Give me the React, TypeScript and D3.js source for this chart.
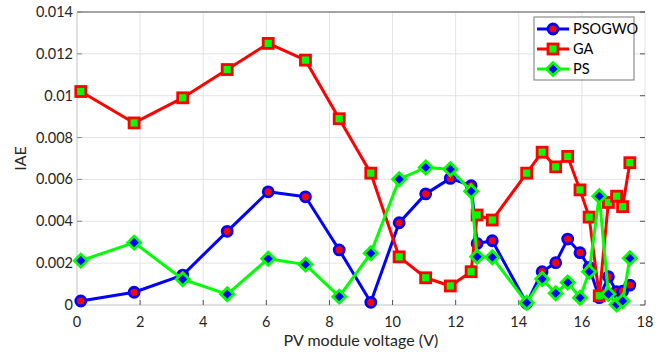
import React from "react";
import * as d3 from "d3";

const voltage = [0.12, 1.81, 3.35, 4.76, 6.06, 7.24, 8.31, 9.31, 10.21, 11.05, 11.83, 12.49, 12.68, 13.16, 14.25, 14.74, 15.17, 15.55, 15.94, 16.23, 16.55, 16.84, 17.1, 17.29, 17.52];
const psogwo = [0.00019, 0.00061, 0.00143, 0.00352, 0.00541, 0.00517, 0.00263, 0.00013, 0.00393, 0.00531, 0.00605, 0.0057, 0.00294, 0.00307, 0.00008, 0.00159, 0.00202, 0.00315, 0.0025, 0.0018, 0.00035, 0.00135, 0.00064, 0.00066, 0.00095];
const ga = [0.0102, 0.0087, 0.0099, 0.01125, 0.0125, 0.0117, 0.0089, 0.0063, 0.0023, 0.0013, 0.00091, 0.00159, 0.0043, 0.00406, 0.0063, 0.0073, 0.0066, 0.0071, 0.0055, 0.0042, 0.00044, 0.0049, 0.0052, 0.0047, 0.0068];
const ps = [0.00212, 0.00298, 0.00123, 0.00051, 0.00221, 0.00193, 0.0004, 0.00247, 0.00601, 0.00657, 0.00649, 0.00544, 0.00231, 0.00228, 0.00011, 0.00124, 0.00056, 0.00108, 0.00035, 0.00159, 0.0052, 0.00052, 0.00002, 0.00019, 0.00223];
const xTicks = [0, 2, 4, 6, 8, 10, 12, 14, 16, 18];
const yTicks = [0, 0.002, 0.004, 0.006, 0.008, 0.01, 0.012, 0.014];
const yTickLabels = ["0", "0.002", "0.004", "0.006", "0.008", "0.01", "0.012", "0.014"];
const seriesNames = ["PSOGWO", "GA", "PS"];

const W = 669, H = 358;
const L = 77, R = 645, T = 12, B = 305;
const FONT = "Lato, 'Open Sans', sans-serif";
const LW = 3;

type Kind = "circle" | "square" | "diamond";

function Marker({ kind, x, y, stroke, fill }: { kind: Kind; x: number; y: number; stroke: string; fill: string }) {
  if (kind === "circle") return <circle cx={x} cy={y} r={5} fill={fill} stroke={stroke} strokeWidth={2.8} />;
  if (kind === "square") return <rect x={x - 5} y={y - 5} width={10} height={10} fill={fill} stroke={stroke} strokeWidth={2.8} />;
  const s = 6.5;
  return <path d={`M${x},${y - s}L${x + s},${y}L${x},${y + s}L${x - s},${y}Z`} fill={fill} stroke={stroke} strokeWidth={2.8} />;
}

export default function App() {
  const x = d3.scaleLinear().domain([0, 18]).range([L, R]);
  const y = d3.scaleLinear().domain([0, 0.014]).range([B, T]);
  const series = [
    { name: seriesNames[0], data: psogwo, color: "#0000ff", fill: "#ff0000", kind: "circle" as Kind },
    { name: seriesNames[1], data: ga, color: "#ff0000", fill: "#00ff00", kind: "square" as Kind },
    { name: seriesNames[2], data: ps, color: "#00ff00", fill: "#0000ff", kind: "diamond" as Kind },
  ];
  const line = d3.line<number>().x((_, i) => x(voltage[i])).y((d) => y(d));
  return (
    <svg width={W} height={H} style={{ position: "absolute", left: 0, top: 0, background: "#fff" }} fontFamily={FONT}>
      <rect width={W} height={H} fill="#fff" />
      {xTicks.map((t) => (
        <line key={"gx" + t} x1={x(t)} x2={x(t)} y1={T} y2={B} stroke="#e3e3e3" strokeWidth={1} />
      ))}
      {yTicks.map((t) => (
        <line key={"gy" + t} x1={L} x2={R} y1={y(t)} y2={y(t)} stroke="#e3e3e3" strokeWidth={1} />
      ))}
      <line x1={L} x2={R} y1={T} y2={T} stroke="#555" strokeWidth={1} />
      <line x1={L} x2={L} y1={T} y2={B} stroke="#d0d0d0" strokeWidth={1} />
      <line x1={L} x2={R} y1={B} y2={B} stroke="#d0d0d0" strokeWidth={1} />
      {xTicks.map((t) => (
        <line key={"tx" + t} x1={x(t)} x2={x(t)} y1={B} y2={B - 5} stroke="#555" strokeWidth={1} />
      ))}
      {yTicks.map((t) => (
        <g key={"ty" + t}>
          <line x1={L} x2={L + 5} y1={y(t)} y2={y(t)} stroke="#888" strokeWidth={1} />
          <line x1={R} x2={R - 5} y1={y(t)} y2={y(t)} stroke="#555" strokeWidth={1} />
        </g>
      ))}
      {xTicks.map((t) => (
        <text key={"lx" + t} x={x(t)} y={B + 22} textAnchor="middle" fontSize={14.5} fill="#262626">{t}</text>
      ))}
      {yTicks.map((t, i) => (
        <text key={"ly" + t} x={L - 4} y={y(t) + 5} textAnchor="end" fontSize={14.5} fill="#262626">{yTickLabels[i]}</text>
      ))}
      <text x={(L + R) / 2} y={346} textAnchor="middle" fontSize={16} fill="#262626">PV module voltage (V)</text>
      <text transform={`translate(26,${(T + B) / 2}) rotate(-90)`} textAnchor="middle" fontSize={16} fill="#262626">IAE</text>
      {series.map((s) => (
        <g key={s.name}>
          <path d={line(s.data) || ""} fill="none" stroke={s.color} strokeWidth={LW} strokeLinejoin="round" />
          {s.data.map((v, i) => (
            <Marker key={i} kind={s.kind} x={x(voltage[i])} y={y(v)} stroke={s.color} fill={s.fill} />
          ))}
        </g>
      ))}
      <g>
        <rect x={534} y={17} width={100} height={63} fill="#fff" stroke="#777" strokeWidth={1} />
        {series.map((s, i) => {
          const yy = 29 + i * 20;
          return (
            <g key={"lg" + s.name}>
              <line x1={537} x2={569} y1={yy} y2={yy} stroke={s.color} strokeWidth={LW} />
              <Marker kind={s.kind} x={553} y={yy} stroke={s.color} fill={s.fill} />
              <text x={573} y={yy + 5} fontSize={14.5} fill="#000">{s.name}</text>
            </g>
          );
        })}
      </g>
    </svg>
  );
}
